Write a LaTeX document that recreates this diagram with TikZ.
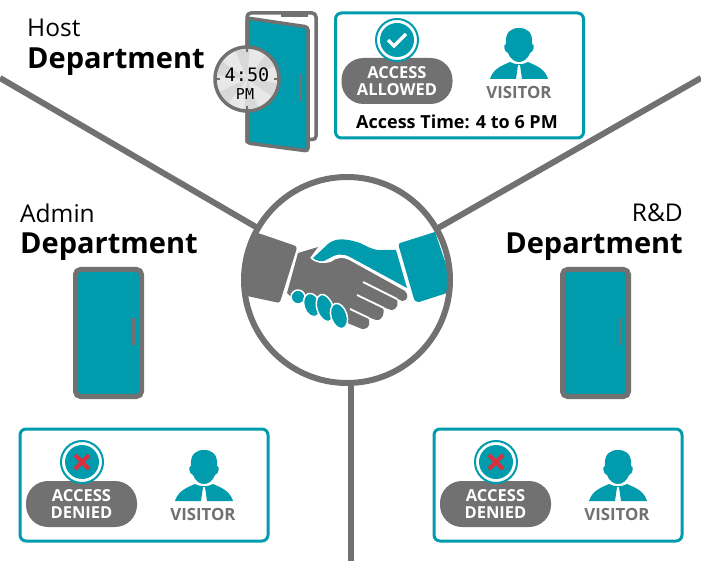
\documentclass[tikz,border=0pt]{standalone}
\usepackage{fontspec}
\setmainfont{Open Sans}
\newfontfamily\clockfont{DejaVu Sans Mono}
\usetikzlibrary{positioning}
\definecolor{doorteal}{HTML}{009BAC}
\definecolor{wallgray}{HTML}{717171}
\definecolor{crossred}{HTML}{D9303E}
\definecolor{facelight}{HTML}{E8E8E8}
\definecolor{facedark}{HTML}{D8D8D8}
\tikzset{%
	hub/.style       = {circle, fill=white, inner sep=0pt, minimum size=206pt}, % Centre disc
	wall/.style      = {draw=wallgray, line width=6pt},
	infobox/.style   = {draw=doorteal, fill=white, line width=3pt, rounded corners=6pt, minimum width=248pt, minimum height=110pt, inner sep=0pt},
	pill/.style      = {fill=wallgray, rounded corners=22pt, minimum width=111pt, minimum height=46pt, inner sep=0pt, text=white, align=center, font=\fontsize{16.5}{17}\selectfont\bfseries},
	visitorlabel/.style = {text=wallgray, inner sep=0pt, font=\fontsize{16.8}{18}\selectfont\bfseries},
	deptsmall/.style = {inner sep=0pt, font=\fontsize{24.5}{26}\selectfont},
	deptbig/.style   = {inner sep=0pt, font=\fontsize{29}{32}\selectfont\bfseries},
	markring/.style  = {circle, fill=white, draw=doorteal, line width=2pt, minimum size=42pt, inner sep=0pt},
	markdisc/.style  = {circle, fill=doorteal, inner sep=0pt, minimum size=34pt},
	doorclosed/.style = {draw=wallgray, fill=doorteal, line width=5pt, rounded corners=5pt, minimum width=66pt, minimum height=127pt, inner sep=0pt},
	doorhandle/.style = {fill=wallgray, inner sep=0pt, minimum width=3pt, minimum height=27pt},
	visitor/.pic = {
		\fill[doorteal] (-13,-10) .. controls (-14,-22) and (-8,-26) .. (0,-26) .. controls (8,-26) and (14,-22) .. (13,-10)
			.. controls (16,-10) and (15,-2) .. (11,-1) .. controls (9,5) and (4,8) .. (0,8)
			.. controls (-4,8) and (-9,5) .. (-11,-1) .. controls (-15,-2) and (-16,-10) .. (-13,-10) -- cycle;
		\fill[doorteal] (-29,25) .. controls (-26,15) and (-18,12) .. (-9,8) .. controls (-4,11) and (4,11) .. (9,8)
			.. controls (18,12) and (26,15) .. (29,25) -- (3,25) -- (1,11) -- (-1,11) -- (-3,25) -- cycle;
	},
}
\begin{document}
\begin{tikzpicture}[x=1pt,y=-1pt]
	\useasboundingbox (0,0) rectangle (701,561);
	% walls
	\node [hub] (hub) at (347,280) {};
	\coordinate (walll) at (0,78);
	\coordinate (wallr) at (701,78);
	\coordinate (wallb) at (351,561);
	\draw[wall] (walll) -- (hub);
	\draw[wall] (wallr) -- (hub);
	\draw[wall] (wallb) -- (wallb|-hub.south);

	% handshake
	\fill[wallgray] (258,233) -- (293,245) .. controls (297,246) and (297,248) .. (296,251) -- (281,299) .. controls (280,303) and (278,303) .. (275,302) -- (247,296) -- (243,270) -- cycle;
	\fill[doorteal] (400,243) -- (435,232) -- (448,270) -- (447,293) -- (419,302) .. controls (416,302) and (415,301) .. (414,299) -- (399,247) .. controls (398,245) and (399,244) .. (400,243) -- cycle;
	\fill[doorteal] (313,258) -- (328,244) .. controls (335,238) and (345,238) .. (360,243) .. controls (370,248) and (375,251) .. (385,250) -- (396,250) -- (407,288) -- (350,257) .. controls (342,253) and (336,254) .. (328,259) .. controls (323,263) and (316,261) .. (313,258) -- cycle;
	\fill[wallgray] (298,253) -- (318,247) -- (310,258) .. controls (316,264) and (324,264) .. (331,262) .. controls (338,257) and (343,257) .. (349,260) -- (405,291) .. controls (409,295) and (408,301) .. (402,301)
		-- (396,298) .. controls (399,302) and (398,310) .. (391,310) -- (383,307) .. controls (385,312) and (383,321) .. (376,320) -- (368,317) .. controls (370,322) and (371,329) .. (362,329) -- (345,322) -- (330,300) -- (290,296) -- (287,293) -- cycle;
	\draw[white,line width=1.8pt] (363,282) -- (397,299) (357,295) -- (384,308) (350,309) -- (369,318);
	\foreach \fx/\fy/\frx/\fry in {298/297/7/7, 312/305/8/12, 325/308/8/14, 339/316/8/13}
		\fill[doorteal,draw=white,line width=1.5pt,rotate around={18:(\fx,\fy)}] (\fx,\fy) ellipse [x radius=\frx, y radius=\fry];
	\draw[wallgray,line width=6pt] (hub.center) circle [radius=103];

	% host door
	\draw[wallgray,line width=3.5pt,rounded corners=4pt,fill=white] (247,143) -- (247,13) -- (316,13) -- (316,140) -- (308,139);
	\fill[wallgray] (281,14) -- (308,14) -- (308,17) -- (281,17) -- cycle;
	\draw[wallgray,fill=doorteal,line width=3.5pt,rounded corners=3pt] (247,18) -- (308,27) -- (308,151) -- (247,143) -- cycle;
	\node [doorhandle] (hosthandle) at (300,88) {};
	\node [circle, draw=wallgray, line width=3.5pt, fill=facelight, minimum size=64pt, inner sep=0pt] (clock) at (247,79) {};
	\foreach \a in {0,60,...,300}
		\fill[facedark] (clock.center) -- +(\a+8:30) arc [start angle=\a+8, end angle=\a+35, radius=30] -- cycle;
	\foreach \a in {0,90,180,270}
		\draw[wallgray,line width=1.5pt] ([shift={(\a:27)}]clock.center) -- ([shift={(\a:33)}]clock.center);
	\node [inner sep=0pt, font=\clockfont\fontsize{18.5}{20}\selectfont] (clocktime) at (247,75) {4:50};
	\node [inner sep=0pt, font=\clockfont\fontsize{15}{15}\selectfont] (clockpm) at (245,94) {PM};

	% closed doors
	\node [doorclosed] (admindoor) at (108.5,333) {};
	\node [doorhandle] (adminhandle) at (133,331) {};
	\node [doorclosed] (rnddoor) at (595.5,333) {};
	\node [doorhandle] (rndhandle) at (620,331) {};

	% department names
	\node [deptsmall, anchor=west] (hostname) at (27,28) {Host};
	\node [deptbig, anchor=west] (hostdept) at (27,62) {Department};
	\node [deptsmall, anchor=west] (adminname) at (20,213) {Admin};
	\node [deptbig, anchor=west] (admindept) at (20,247) {Department};
	\node [deptsmall, anchor=east] (rndname) at (683,213) {R\&D};
	\node [deptbig, anchor=east] (rnddept) at (683,247) {Department};

	% host box
	\node [infobox, minimum height=125pt] (hostbox) at (459.5,75.5) {};
	\node [pill] (hostpill) at (397,81) {ACCESS\\ALLOWED};
	\node [markring] (hostring) at (397,40) {};
	\node [markdisc] (hostdisc) at (hostring) {};
	\draw[white,line width=3.5pt] (388,40) -- (394,46) -- (406,34);
	\pic at (519,54) {visitor};
	\node [visitorlabel] (hostvisitor) at (519,92) {VISITOR};
	\node [inner sep=0pt, font=\fontsize{18}{20}\selectfont\bfseries] (hosttime) at (457,122) {Access Time: 4 to 6 PM};

	% admin box
	\node [infobox, minimum height=112pt] (adminbox) at (144,485) {};
	\node [pill] (adminpill) at (81.5,504) {ACCESS\\DENIED};
	\node [markring] (adminring) at (82,462) {};
	\node [markdisc] (admindisc) at (adminring) {};
	\draw[crossred,line width=4pt] (75,455) -- (89,469) (89,455) -- (75,469);
	\pic at (204,476) {visitor};
	\node [visitorlabel] (adminvisitor) at (203,514) {VISITOR};

	% R&D box
	\node [infobox, minimum height=112pt] (rndbox) at (558,485) {};
	\node [pill] (rndpill) at (495.5,504) {ACCESS\\DENIED};
	\node [markring] (rndring) at (496,462) {};
	\node [markdisc] (rnddisc) at (rndring) {};
	\draw[crossred,line width=4pt] (489,455) -- (503,469) (503,455) -- (489,469);
	\pic at (618,476) {visitor};
	\node [visitorlabel] (rndvisitor) at (617,514) {VISITOR};
\end{tikzpicture}
\end{document}
